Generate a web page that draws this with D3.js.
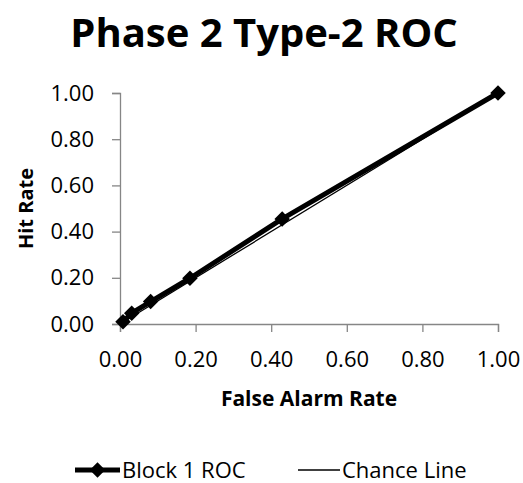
<!DOCTYPE html>
<html>
<head>
<meta charset="utf-8">
<script src="https://cdn.jsdelivr.net/npm/d3@7"></script>
<style>
  body { margin: 0; background: #fff; }
  text { font-family: "Open Sans", sans-serif; fill: #000; }
</style>
</head>
<body>
<div id="chart"></div>
<script>
// Block 1 ROC points (false alarm rate, hit rate)
const falseAlarm = [0.008, 0.031, 0.081, 0.185, 0.429, 1.00];
const hitRate    = [0.010, 0.047, 0.097, 0.198, 0.455, 1.00];
// Chance line endpoints
const chanceX = [0, 1];
const chanceY = [0, 1];
const tickValues = [0, 0.2, 0.4, 0.6, 0.8, 1.0];

const W = 523, H = 483;
const m = { left: 120, right: 25, top: 93, bottom: 159 };

const svg = d3.select("#chart").append("svg").attr("width", W).attr("height", H);

const x = d3.scaleLinear().domain([0, 1]).range([m.left, W - m.right]);
const y = d3.scaleLinear().domain([0, 1]).range([H - m.bottom, m.top]);

// Title
svg.append("text").attr("x", 264).attr("y", 47).attr("text-anchor", "middle")
  .style("font-size", "40px").style("font-weight", "bold").text("Phase 2 Type-2 ROC");

// Axes
const fmt = d3.format(".2f");
const xAxis = svg.append("g").attr("transform", `translate(0,${y(0)})`)
  .call(d3.axisBottom(x).tickValues(tickValues).tickFormat(fmt).tickSize(8).tickPadding(19));
const yAxis = svg.append("g").attr("transform", `translate(${x(0)},0)`)
  .call(d3.axisLeft(y).tickValues(tickValues).tickFormat(fmt).tickSize(8).tickPadding(18));
[xAxis, yAxis].forEach(g => {
  g.select(".domain").attr("stroke", "#868686").attr("stroke-width", 1.3);
  g.selectAll(".tick line").attr("stroke", "#868686").attr("stroke-width", 1.3);
  g.selectAll(".tick text").style("font-size", "22px").style("font-family", "'Open Sans', sans-serif").attr("fill", "#000");
});

// Axis titles
svg.append("text").attr("x", x(0.5)).attr("y", 406).attr("text-anchor", "middle")
  .style("font-size", "21px").style("font-weight", "bold").text("False Alarm Rate");
svg.append("text").attr("transform", `translate(33,${y(0.5)}) rotate(-90)`).attr("text-anchor", "middle")
  .style("font-size", "20px").style("font-weight", "bold").text("Hit Rate");

const line = d3.line().x(d => x(d[0])).y(d => y(d[1]));
const roc = falseAlarm.map((v, i) => [v, hitRate[i]]);
const chance = chanceX.map((v, i) => [v, chanceY[i]]);
const marker = d3.symbol().type(d3.symbolSquare).size(120);

// ROC series
svg.append("path").datum(roc).attr("d", line).attr("fill", "none")
  .attr("stroke", "#000").attr("stroke-width", 5).attr("stroke-linejoin", "round");
svg.selectAll(".pt").data(roc).join("path").attr("class", "pt")
  .attr("d", marker)
  .attr("transform", d => `translate(${x(d[0])},${y(d[1])}) rotate(45)`)
  .attr("fill", "#000");

// Chance line
svg.append("path").datum(chance).attr("d", line).attr("fill", "none")
  .attr("stroke", "#000").attr("stroke-width", 1.3);

// Legend
const ly = 470;
const lg = svg.append("g");
lg.append("line").attr("x1", 75).attr("x2", 120).attr("y1", ly).attr("y2", ly)
  .attr("stroke", "#000").attr("stroke-width", 5);
lg.append("path").attr("d", marker())
  .attr("transform", `translate(97.5,${ly}) rotate(45)`).attr("fill", "#000");
lg.append("text").attr("x", 122).attr("y", 478).style("font-size", "22px").text("Block 1 ROC");
lg.append("line").attr("x1", 298).attr("x2", 340).attr("y1", ly).attr("y2", ly)
  .attr("stroke", "#000").attr("stroke-width", 1.5);
lg.append("text").attr("x", 342).attr("y", 478).style("font-size", "22px").text("Chance Line");
</script>
</body>
</html>
